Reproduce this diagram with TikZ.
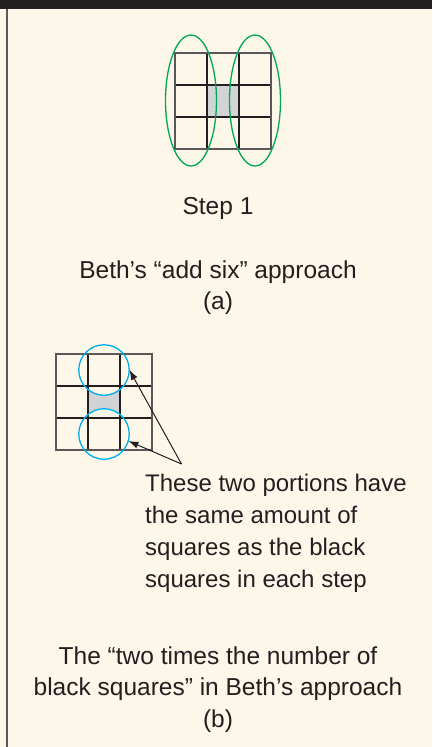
\documentclass[tikz,border=0pt]{standalone}
\usepackage{fontspec}
\setmainfont{Liberation Sans}
\usetikzlibrary{shapes.geometric, arrows.meta, positioning}
\definecolor{cream}{RGB}{253,247,234}
\definecolor{inkblack}{RGB}{35,31,32}
\definecolor{cellgray}{RGB}{209,211,212}
\definecolor{ringgreen}{RGB}{0,166,81}
\definecolor{ringblue}{RGB}{0,174,239}

\begin{document}
\begin{tikzpicture}[x=1pt, y=-1pt, node distance=31.5pt]
\tikzstyle{captiontext} = [font=\fontsize{24.5}{31.5}\selectfont, text=inkblack, inner sep=0pt, align=center, anchor=base]
\tikzstyle{notetext} = [captiontext, font=\fontsize{24}{32}\selectfont, align=left, anchor=base west]
\tikzstyle{gridline} = [draw=inkblack, line width=1.6pt]
\tikzstyle{gridframe} = [draw=inkblack!75, line width=1.3pt]
\tikzstyle{ringgroup} = [ellipse, draw=ringgreen, line width=1.3pt, minimum width=51pt, minimum height=131pt, inner sep=0pt]
\tikzstyle{portion} = [circle, fill=cream, minimum size=50.5pt, inner sep=0pt]
\tikzstyle{ring} = [circle, draw=ringblue, line width=1.3pt, minimum size=50.5pt, inner sep=0pt]
\tikzstyle{arrow} = [line width=1pt, draw=inkblack, -{Latex[length=10pt, width=7pt]}]
\useasboundingbox (0,0) rectangle (432,747);
% background and frame
\fill[cream] (0,0) rectangle (432,747);
\fill[inkblack] (0,0) rectangle (432,9);
\draw[black!65, line width=1.8pt] (6.8,9) -- (6.8,747);
% (a) step 1
\fill[cellgray] (207,85) rectangle (239,117);
\foreach \k in {85,117} \draw[gridline] (175,\k) -- (271,\k);
\foreach \k in {207,239} \draw[gridline] (\k,53) -- (\k,149);
\draw[gridframe] (175,53) rectangle (271,149);
\node (leftgroup) [ringgroup] at (191,100.5) {};
\node (rightgroup) [ringgroup] at (255,100.5) {};
\node (step) [captiontext] at (218,214) {Step 1};
\node (desca) [captiontext] at (218,309.5) {Beth’s “add six” approach\\(a)};
% (b) two portions
\fill[cellgray] (88,386) rectangle (120,418);
\node (top) [portion] at (104,370) {};
\node (bottom) [portion] at (104,434) {};
\foreach \k in {386,418} \draw[gridline] (56,\k) -- (152,\k);
\foreach \k in {88,120} \draw[gridline] (\k,354) -- (\k,450);
\draw[gridframe] (56,354) rectangle (152,450);
\node [ring] at (top) {};
\node [ring] at (bottom) {};
\coordinate (apex) at (181.5,464);
\draw[arrow] (apex) -- (top.east);
\draw[arrow] (apex) -- (bottom.-16);
\node (portionnote) [notetext] at (145,587.5) {These two portions have\\the same amount of\\squares as the black\\squares in each step};
\node (descb) [captiontext] at (218,727) {The “two times the number of\\black squares” in Beth’s approach\\(b)};
\end{tikzpicture}
\end{document}
